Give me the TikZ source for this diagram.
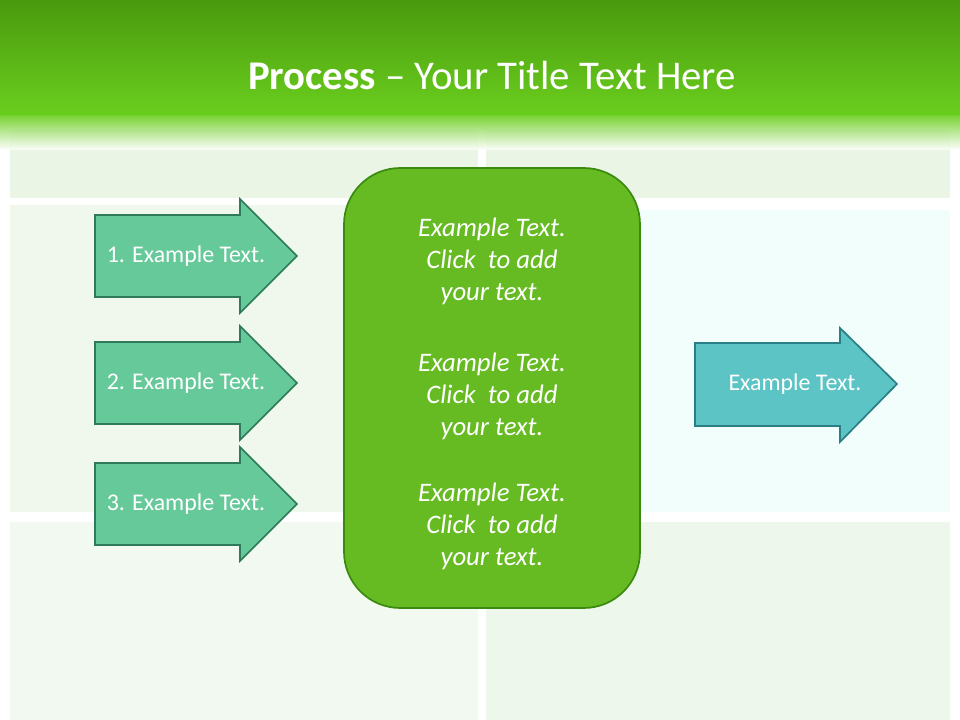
\documentclass[tikz,border=0pt]{standalone}
\usepackage{fontspec}
\setmainfont{Carlito}
\begin{document}
\begin{tikzpicture}[x=0.025cm,y=-0.025cm,
  larrow/.style={fill=arrowgreen,draw=arrowgreenD,line width=1.2pt},
  rarrow/.style={fill=arrowteal,draw=arrowtealD,line width=1.2pt},
  tile/.style={fill=tilegreen,draw=none},
  ltext/.style={text=white,font=\fontsize{17}{20}\selectfont},
  ctext/.style={text=white,font=\fontsize{19}{22.7}\selectfont\itshape,align=center}]
\definecolor{arrowgreen}{HTML}{66C99A}
\definecolor{arrowgreenD}{HTML}{2E7A5A}
\definecolor{arrowteal}{HTML}{5CC4C4}
\definecolor{arrowtealD}{HTML}{2A7F86}
\definecolor{boxgreen}{HTML}{66BB22}
\definecolor{boxgreenD}{HTML}{3A8A10}
\definecolor{hdrtop}{HTML}{4A9A0E}
\definecolor{hdrbot}{HTML}{6ACE1E}
\definecolor{tilegreen}{HTML}{EAF5E6}
\useasboundingbox (0,0) rectangle (960,720);
\fill[white] (0,0) rectangle (960,720);
% tiles
\fill[tile] (10,130) rectangle (478,198);
\fill[tile] (486,130) rectangle (950,198);
\fill[tile,fill=tilegreen!70] (10,205) rectangle (478,512);
\fill[tile,fill=tilegreen!70!cyan!15] (640,210) rectangle (950,512);
\fill[tile,fill=tilegreen!60] (10,522) rectangle (478,720);
\fill[tile,fill=tilegreen!80] (486,522) rectangle (950,720);
% header
\shade[top color=hdrtop,bottom color=hdrbot] (0,0) rectangle (960,115);
\shade[top color=hdrbot,bottom color=white,opacity=0.9] (0,115) rectangle (960,150);
\node[text=white,font=\fontsize{29}{34}\selectfont] (title) at (492,75) {\textbf{Process} -- Your Title Text Here};
% left arrows
\foreach \n/\c in {1/256,2/383,3/504}{
  \draw[larrow] (95,\c-41) -- (240,\c-41) -- (240,\c-57) -- (297,\c) -- (240,\c+57) -- (240,\c+41) -- (95,\c+41) -- cycle;
  \node[ltext] (a\n) at (186,\c) {\n. Example Text.};
}
% right arrow
\draw[rarrow] (695,343) -- (840,343) -- (840,328) -- (897,384) -- (840,442) -- (840,426) -- (695,426) -- cycle;
\node[ltext] (r) at (795,384) {Example Text.};
% center box
\draw[fill=boxgreen,draw=boxgreenD,line width=1.2pt,rounded corners=40] (344,168) rectangle (640,608);
\foreach \n/\c in {1/261,2/396,3/526}
  \node[ctext] (c\n) at (492,\c) {Example Text.\\Click\ \ to add\\your text.};
\end{tikzpicture}
\end{document}
